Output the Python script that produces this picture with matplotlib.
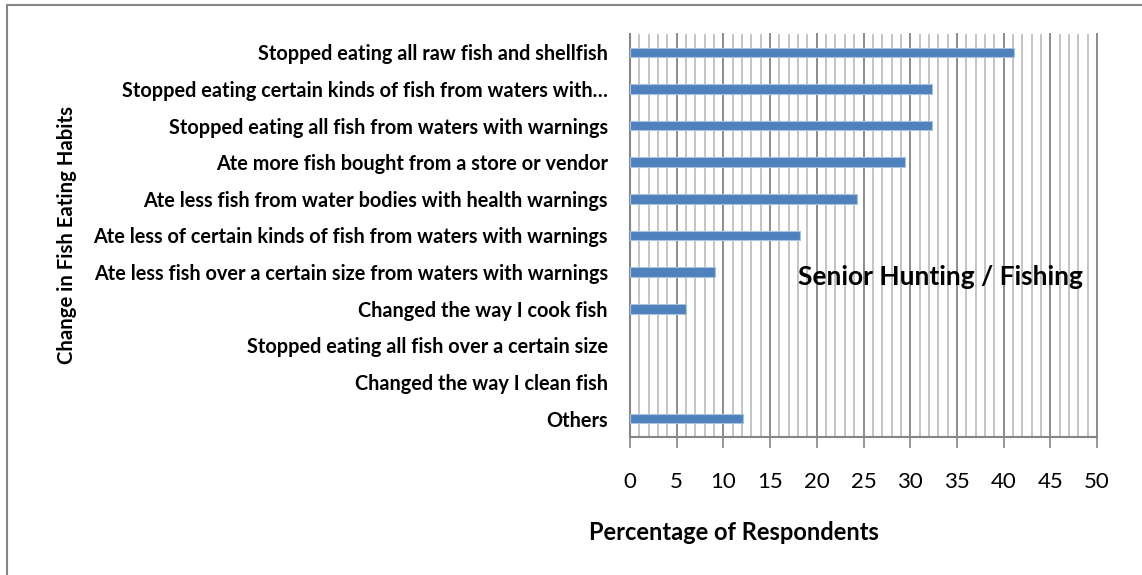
import matplotlib
matplotlib.use("Agg")
import matplotlib.pyplot as plt
from matplotlib.ticker import MultipleLocator
from matplotlib.patches import Rectangle

categories = [
    "Stopped eating all raw fish and shellfish",
    "Stopped eating certain kinds of fish from waters with\u2026",
    "Stopped eating all fish from waters with warnings",
    "Ate more fish bought from a store or vendor",
    "Ate less fish from water bodies with health warnings",
    "Ate less of certain kinds of fish from waters with warnings",
    "Ate less fish over a certain size from waters with warnings",
    "Changed the way I cook fish",
    "Stopped eating all fish over a certain size",
    "Changed the way I clean fish",
    "Others",
]
percentages = [41.1, 32.3, 32.3, 29.4, 24.3, 18.2, 9.1, 6.0, 0.0, 0.0, 12.1]
x_ticks = [0, 5, 10, 15, 20, 25, 30, 35, 40, 45, 50]

plt.rcParams["font.family"] = ["Lato", "DejaVu Sans"]

W, H = 1142, 575
fig = plt.figure(figsize=(W / 100, H / 100), dpi=100)
ax = fig.add_axes([630 / W, 1 - 437 / H, (1097 - 630) / W, (437 - 34) / H])

ypos = list(range(len(categories)))
ax.barh(ypos, percentages, height=0.26, color="#4F81BD",
        edgecolor="#A9C2E0",
        linewidth=[0.8 if v > 0 else 0 for v in percentages], zorder=3)

ax.set_xlim(x_ticks[0], x_ticks[-1])
ax.set_ylim(len(categories) - 0.5, -0.5)
ax.set_xticks(x_ticks)
ax.set_xticklabels([str(t) for t in x_ticks], fontsize=16)
ax.xaxis.set_minor_locator(MultipleLocator(1))
ax.set_yticks(ypos)
ax.set_yticklabels(categories, fontsize=14.3, fontweight="bold")

ax.tick_params(axis="y", length=0, pad=16)
ax.tick_params(axis="x", which="major", length=8, width=1.2,
               color="#868686", direction="out", pad=17)
ax.tick_params(axis="x", which="minor", length=0)

ax.grid(axis="x", which="minor", color="#C4C4C4", linewidth=1.4, zorder=0)
ax.grid(axis="x", which="major", color="#8C8C8C", linewidth=1.4, zorder=1)
for gl in ax.get_xgridlines():
    gl.set_clip_on(False)
ax.set_axisbelow(True)

for side in ("top", "right"):
    ax.spines[side].set_visible(False)
for side in ("left", "bottom"):
    ax.spines[side].set_color("#868686")
    ax.spines[side].set_linewidth(1.5)

fig.text(734 / W, 1 - 532 / H, "Percentage of Respondents", ha="center",
         va="center", fontsize=17, fontweight="bold")
fig.text(67 / W, 1 - 235 / H, "Change in Fish Eating Habits", rotation=90,
         ha="center", va="center", fontsize=14.6, fontweight="bold")

fig.text(940 / W, 1 - 277 / H, "Senior Hunting / Fishing", ha="center",
         va="center", fontsize=19, fontweight="bold")

fig.patches.append(Rectangle((7 / W, -0.1), 2, 1 - 5 / H + 0.1,
                             transform=fig.transFigure, fill=False,
                             edgecolor="#868686", linewidth=1.5))

fig.savefig("out.png", dpi=100)
